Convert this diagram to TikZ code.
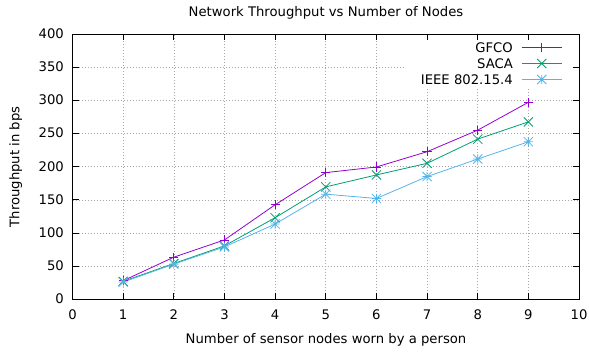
\documentclass[tikz,border=0pt]{standalone}
\usepackage{fontspec}
\setmainfont{DejaVu Sans}
\definecolor{gfcocol}{RGB}{148,0,211}
\definecolor{sacacol}{RGB}{0,158,115}
\definecolor{ieeecol}{RGB}{86,180,233}
\begin{document}
\begin{tikzpicture}[x=1pt,y=-1pt,
  font=\fontsize{13.2}{15}\selectfont,
  gridline/.style={gray!70,line width=0.6pt,dash pattern=on 0.8pt off 2.2pt},
  frame/.style={black,line width=0.9pt},
  gfco/.style={draw=gfcocol,line width=0.8pt},
  saca/.style={draw=sacacol,line width=0.8pt},
  ieee/.style={draw=ieeecol,line width=0.8pt},
  keyline/.style={line width=1.1pt},
  plusmark/.pic={\draw (-4.6pt,0) -- (4.6pt,0) (0,-4.6pt) -- (0,4.6pt);},
  crossmark/.pic={\draw (-4.6pt,-4.6pt) -- (4.6pt,4.6pt) (-4.6pt,4.6pt) -- (4.6pt,-4.6pt);},
  starmark/.pic={\draw (-4.6pt,0) -- (4.6pt,0) (0,-4.6pt) -- (0,4.6pt)
                       (-4.6pt,-4.6pt) -- (4.6pt,4.6pt) (-4.6pt,4.6pt) -- (4.6pt,-4.6pt);},
  ticklabel/.style={inner sep=0pt},
  legendtext/.style={inner sep=0pt,anchor=base east}]
\useasboundingbox (0,0) rectangle (589,353);

% title and axis labels
\node[inner sep=0pt,anchor=base] (title) at (326,16.5) {Network Throughput vs Number of Nodes};
\node[inner sep=0pt,anchor=base,rotate=90] (ylab) at (19.5,167) {Throughput in bps};
\node[inner sep=0pt,anchor=base] (xlab) at (326,343.5) {Number of sensor nodes worn by a person};

% data area: x from 0 to 10, y from 0 to 400
\begin{scope}[shift={(72.5,299.3)},x=50.65pt,y=0.6633pt]
  % grid
  \foreach \y in {50,100,...,350} \draw[gridline] (0,\y) -- (10,\y);
  \foreach \x in {1,...,9} \draw[gridline] (\x,0) -- (\x,400);
  % opaque key box
  \fill[white] (6.563,400) rectangle (9.99,318.7);
  % frame with inward ticks on all sides
  \draw[frame] (0,0) rectangle (10,400);
  \draw[black,line width=1.4pt] (0,0) -- (10,0);
  \foreach \x in {1,...,9} {
    \draw[frame] (\x,0) -- ++(0,6pt);
    \draw[frame] (\x,400) -- ++(0,-6pt);
  }
  \foreach \y in {50,100,...,350} {
    \draw[frame] (0,\y) -- ++(6pt,0);
    \draw[frame] (10,\y) -- ++(-6pt,0);
  }
  % tick labels
  \foreach \x in {0,...,10}
    \node[ticklabel,anchor=base] (xt\x) at ([yshift=-20.4pt]\x,0) {\x};
  \foreach \y in {0,50,...,400}
    \node[ticklabel,anchor=base east] (yt\y) at ([xshift=-8.5pt,yshift=-4.5pt]0,\y) {\y};

  % measured throughput
  \foreach \n/\v in {1/28,2/63.5,3/89.5,4/142.5,5/191,6/199.5,7/222.5,8/255,9/297}
    \coordinate (g\n) at (\n,\v);
  \foreach \n/\v in {1/27,2/54,3/80.5,4/123,5/169.5,6/187.5,7/205,8/241.5,9/267.5}
    \coordinate (s\n) at (\n,\v);
  \foreach \n/\v in {1/26,2/53,3/79,4/113.5,5/158.5,6/152,7/185,8/211.5,9/237.5}
    \coordinate (i\n) at (\n,\v);

  \draw[gfco] (g1) -- (g2) -- (g3) -- (g4) -- (g5) -- (g6) -- (g7) -- (g8) -- (g9);
  \draw[saca] (s1) -- (s2) -- (s3) -- (s4) -- (s5) -- (s6) -- (s7) -- (s8) -- (s9);
  \draw[ieee] (i1) -- (i2) -- (i3) -- (i4) -- (i5) -- (i6) -- (i7) -- (i8) -- (i9);
  \foreach \n in {1,...,9} {
    \pic[gfco] at (g\n) {plusmark};
    \pic[saca] at (s\n) {crossmark};
    \pic[ieee] at (i\n) {starmark};
  }
\end{scope}

% key
\node[legendtext] (kg) at (513,52.5) {GFCO};
\node[legendtext] (ks) at (513,68.5) {SACA};
\node[legendtext] (ki) at (513,84.5) {IEEE 802.15.4};
\coordinate (kga) at (521.7,47.5); \coordinate (kgb) at (561.7,47.5);
\coordinate (ksa) at (521.7,63.5); \coordinate (ksb) at (561.7,63.5);
\coordinate (kia) at (521.7,79.5); \coordinate (kib) at (561.7,79.5);
\draw[gfco,keyline] (kga) -- (kgb);
\draw[saca,keyline] (ksa) -- (ksb);
\draw[ieee,keyline] (kia) -- (kib);
\pic[gfco] at (541.7,47.5) {plusmark};
\pic[saca] at (541.7,63.5) {crossmark};
\pic[ieee] at (541.7,79.5) {starmark};
\end{tikzpicture}
\end{document}
